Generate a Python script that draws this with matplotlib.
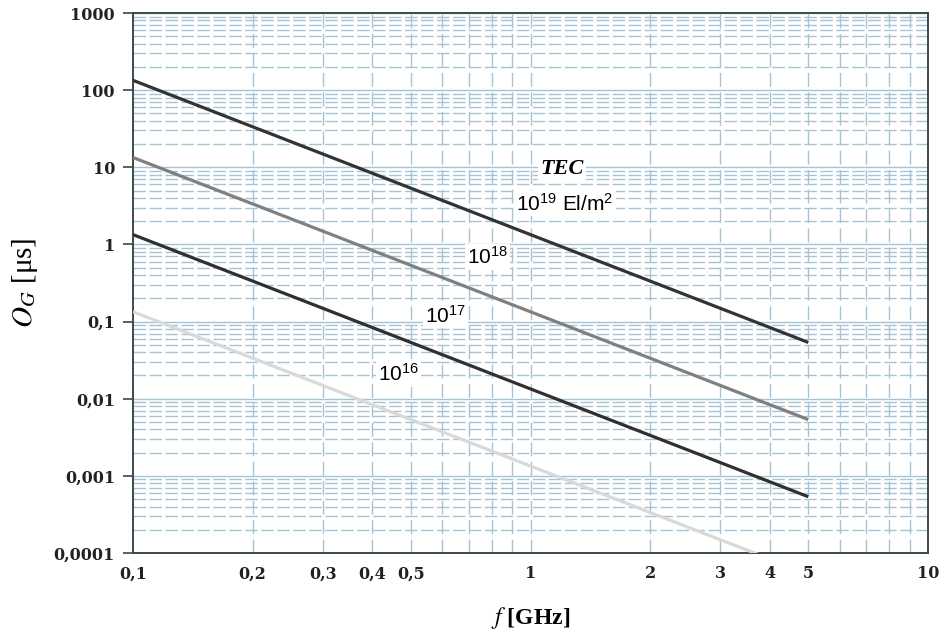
import matplotlib
matplotlib.use('Agg')
import matplotlib.pyplot as plt
from matplotlib.ticker import FixedLocator, NullFormatter, NullLocator

# data (delay in microseconds at the two end frequencies)
freq = [0.1, 5]
tec_labels = ['10$^{19}$', '10$^{18}$', '10$^{17}$', '10$^{16}$']
delay_19 = [134, 0.0536]
delay_18 = [13.4, 0.00536]
delay_17 = [1.34, 0.000536]
delay_16 = [0.134, 0.0000536]
line_colors = ['#333333', '#808080', '#303030', '#d9d9d9']

xticks = [0.1, 0.2, 0.3, 0.4, 0.5, 1, 2, 3, 4, 5, 10]
xticklabels = ['0,1', '0,2', '0,3', '0,4', '0,5', '1', '2', '3', '4', '5', '10']
yticks = [0.0001, 0.001, 0.01, 0.1, 1, 10, 100, 1000]
yticklabels = ['0,0001', '0,001', '0,01', '0,1', '1', '10', '100', '1000']

plt.rcParams['mathtext.fontset'] = 'stix'
plt.rcParams['mathtext.default'] = 'regular'

fig = plt.figure(figsize=(9.45, 6.42), dpi=100)
ax = fig.add_axes([133 / 945, 1 - 553 / 642, 795 / 945, 540 / 642])
ax.set_xscale('log')
ax.set_yscale('log')
ax.set_xlim(0.1, 10)
ax.set_ylim(0.0001, 1000)

gc = '#a6c3d3'
# grid: decades solid, minors dashed
for d in yticks:
    ax.axhline(d, color=gc, lw=1.0, zorder=1)
    for m in range(2, 10):
        if d * m < 1000:
            ax.axhline(d * m, color=gc, lw=1.0, ls=(0, (9, 2.5)), zorder=1)
vx = [0.2, 0.3, 0.4, 0.5, 0.6, 0.7, 0.8, 0.9, 1, 2, 3, 4, 5, 6, 7, 8, 9]
for v in vx:
    ax.axvline(v, color=gc, lw=1.0, ls=(0, (10, 4)), zorder=1)

for ys, c in zip([delay_19, delay_18, delay_17, delay_16], line_colors):
    ax.plot(freq, ys, color=c, lw=2.3, zorder=3, solid_capstyle='butt')

tick_font = dict(fontfamily='DejaVu Serif', fontweight='bold', fontsize=11.5, color='#222222')
ax.xaxis.set_major_locator(FixedLocator(xticks))
ax.xaxis.set_minor_locator(NullLocator())
ax.xaxis.set_minor_formatter(NullFormatter())
ax.set_xticklabels(xticklabels, **tick_font)
ax.yaxis.set_major_locator(FixedLocator(yticks))
ax.yaxis.set_minor_locator(NullLocator())
ax.yaxis.set_minor_formatter(NullFormatter())
ax.set_yticklabels(yticklabels, **tick_font)
ax.tick_params(axis='x', length=0, pad=9)
ax.tick_params(axis='y', length=7, width=1.2, color='#444444', pad=6)

for s in ax.spines.values():
    s.set_color('#3a4a4a')
    s.set_linewidth(1.4)

ax.set_ylabel('$\\mathit{O_G}$ [μs]', fontfamily='Liberation Serif', fontsize=21, labelpad=10)
ax.set_xlabel('$\\mathit{f}$ [GHz]', fontfamily='Liberation Serif', fontsize=17,
              fontweight='bold', labelpad=16)

box = dict(facecolor='white', edgecolor='none', pad=1.5)
ax.text(1.2, 9.5, 'TEC', fontfamily='Liberation Serif', fontsize=16, fontweight='bold',
        style='italic', ha='center', va='center', zorder=4, bbox=box)
ax.text(1.22, 3.4, tec_labels[0] + ' El/m$^2$', fontfamily='Liberation Sans', fontsize=15,
        ha='center', va='center', zorder=4, bbox=box)
ax.text(0.78, 0.68, tec_labels[1], fontfamily='Liberation Sans', fontsize=15,
        ha='center', va='center', zorder=4, bbox=box)
ax.text(0.61, 0.12, tec_labels[2], fontfamily='Liberation Sans', fontsize=15,
        ha='center', va='center', zorder=4, bbox=box)
ax.text(0.465, 0.021, tec_labels[3], fontfamily='Liberation Sans', fontsize=15,
        ha='center', va='center', zorder=4, bbox=box)

fig.savefig('out.png', dpi=100)
